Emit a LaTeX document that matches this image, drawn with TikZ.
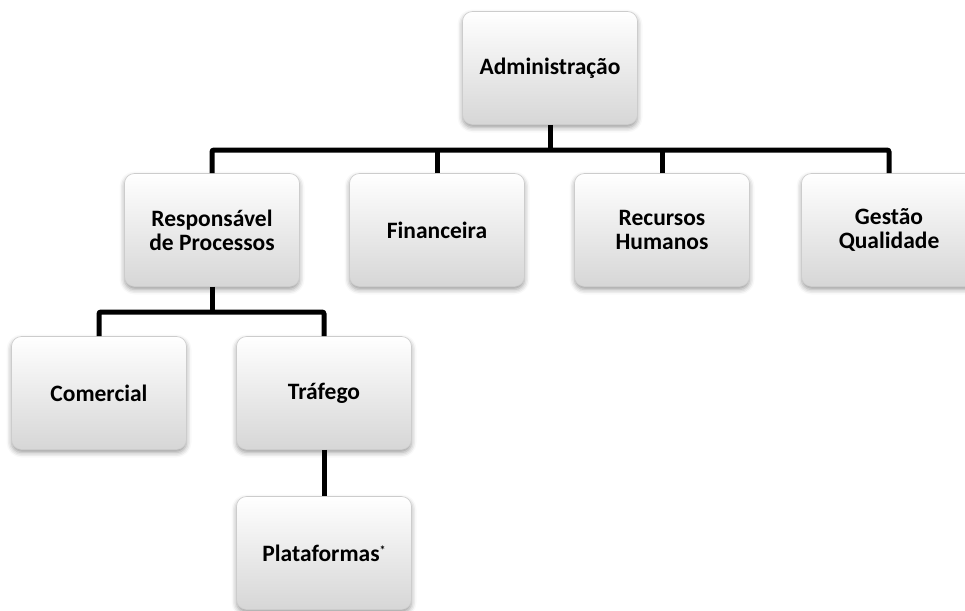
\documentclass[tikz,border=0pt]{standalone}
\usepackage{fontspec}
\setmainfont{Carlito}
\usetikzlibrary{shadows.blur}
\begin{document}
\begin{tikzpicture}[x=1pt,y=-1pt,
  unitbox/.style={rounded corners=10pt, minimum width=175pt, minimum height=113pt,
    top color=white, bottom color=black!16, draw=black!20, line width=0.6pt,
    blur shadow={shadow xshift=0pt, shadow yshift=-3pt, shadow blur radius=5pt, shadow opacity=40},
    align=center, font=\fontsize{23.5}{24}\selectfont\bfseries, text=black},
  conn/.style={line width=5pt, draw=black, rounded corners=2pt}]
\useasboundingbox (0,0) rectangle (965,610);
% top level
\node[unitbox] (adm) at (550,68) {Administração};
% departments
\node[unitbox] (resp) at (212,230) {Responsável\\de Processos};
\node[unitbox] (fin) at (437,230) {Financeira};
\node[unitbox] (rh) at (662,230) {Recursos\\Humanos};
\node[unitbox] (gq) at (889,230) {Gestão\\Qualidade};
% process units
\node[unitbox] (com) at (99,393) {Comercial};
\node[unitbox] (tra) at (324,393) {Tráfego};
\node[unitbox] (pla) at (324,553) {Plataformas\raisebox{7pt}{\fontsize{12}{12}\selectfont *}};
% connectors
\coordinate (busA) at (0,150);
\coordinate (busB) at (0,312);
\draw[conn] (adm.south) -- (adm.south |- busA);
\draw[conn] (resp.north) |- (gq.north |- busA) -- (gq.north);
\draw[conn] (fin.north) -- (fin.north |- busA);
\draw[conn] (rh.north) -- (rh.north |- busA);
\draw[conn] (resp.south) -- (resp.south |- busB);
\draw[conn] (com.north) |- (tra.north |- busB) -- (tra.north);
\draw[conn] (tra.south) -- (pla.north);
\end{tikzpicture}
\end{document}
